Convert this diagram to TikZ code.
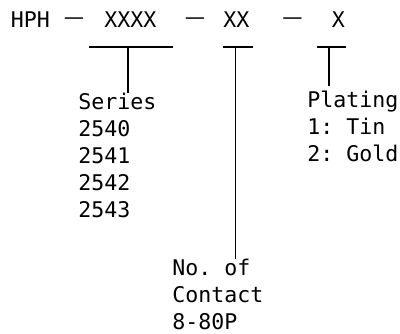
\documentclass[tikz,border=0pt]{standalone}
\usepackage{fontspec}
\usepackage{graphicx}
\setmonofont{DejaVu Sans Mono}
\tikzset{
  code/.style={inner sep=0pt,anchor=base west,font=\ttfamily\fontsize{16.2}{20.2}\selectfont},
  sep/.style={inner sep=0pt,font=\ttfamily\fontsize{16.2}{20.2}\selectfont},
  legend/.style={inner sep=0pt,anchor=north west,align=left,font=\ttfamily\fontsize{16.2}{20.2}\selectfont},
  bar/.style={line width=1.3pt},
  tick/.style={line width=1pt}
}
\begin{document}
\begin{tikzpicture}[x=0.75pt,y=-0.75pt]
      \useasboundingbox (0,0) rectangle (400,334);
      % part number
      \node[code] (hph) at (10.5,28) {HPH};
      \node[sep] (d1) at (74,21) {\scalebox{1.4}[1]{—}};
      \node[code] (xxxx) at (104,28) {XXXX};
      \node[sep] (d2) at (195,21) {\scalebox{1.4}[1]{—}};
      \node[code] (xx) at (223,28) {XX};
      \node[sep] (d3) at (292.5,21) {\scalebox{1.4}[1]{—}};
      \node[code] (x) at (331.5,28) {X};
      % underlines
      \coordinate (s1) at (89,47);
      \coordinate (s2) at (173,47);
      \coordinate (c1) at (223,47);
      \coordinate (c2) at (253,47);
      \coordinate (p1) at (317,47);
      \coordinate (p2) at (346,47);
      \draw[bar] (s1) -- (s2);
      \draw[bar] (c1) -- (c2);
      \draw[bar] (p1) -- (p2);
      % legends
      \node[legend] (series) at (78,93) {Series\\2540\\2541\\2542\\2543};
      \node[legend] (contact) at (172,259) {No. of\\Contact\\8-80P};
      \node[legend] (plating) at (307,91) {Plating\\1: Tin\\2: Gold};
      \coordinate (s) at (128,47);
      \coordinate (c) at (235.5,47);
      \coordinate (p) at (329,47);
      \draw[tick] (s) -- (s |- series.north);
      \draw[tick] (c) -- (c |- contact.north);
      \draw[tick,shorten >=4] (p) -- (p |- plating.north);
    \end{tikzpicture}
\end{document}
